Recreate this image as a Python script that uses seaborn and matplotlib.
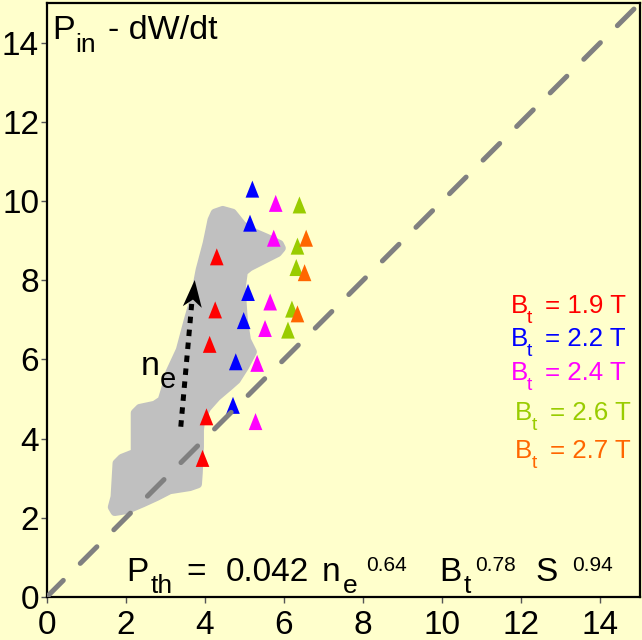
import numpy as np
import pandas as pd
import matplotlib
matplotlib.use("Agg")
import matplotlib.pyplot as plt
from matplotlib.markers import MarkerStyle
from matplotlib.path import Path
from matplotlib.transforms import Affine2D
import seaborn as sns

# Heating power minus dW/dt against the scaling-law threshold power, grouped by toroidal field
bt_levels = ["1.9", "2.2", "2.4", "2.6", "2.7"]
bt_colors = ["#FF0000", "#0000FF", "#FF00FF", "#99CC00", "#FF6600"]

pth_19 = [3.94, 4.04, 4.12, 4.26, 4.30]
pin_19 = [3.50, 4.55, 6.38, 7.25, 8.59]
pth_22 = [5.20, 5.14, 5.09, 4.98, 4.78, 4.71]
pin_22 = [10.30, 9.44, 7.69, 6.98, 5.94, 4.84]
pth_24 = [5.79, 5.74, 5.65, 5.52, 5.32, 5.28]
pin_24 = [9.94, 9.06, 7.45, 6.78, 5.90, 4.43]
pth_26 = [6.39, 6.34, 6.31, 6.20, 6.10]
pin_26 = [9.90, 8.86, 8.32, 7.27, 6.74]
pth_27 = [6.56, 6.52, 6.34]
pin_27 = [9.06, 8.19, 7.15]

# Outline of the shaded density-scan region
band_x = [4.25, 4.45, 4.70, 4.95, 5.21, 5.56, 5.89, 5.94, 5.84, 5.13, 4.98, 4.93,
          4.95, 4.98, 5.06, 5.21, 5.01, 4.80, 4.63, 4.30, 4.05, 3.90, 3.87, 3.87,
          3.84, 3.82, 3.62, 3.11, 2.78, 2.43, 2.03, 1.72, 1.65, 1.72, 1.77, 1.90,
          2.23, 2.23, 2.35, 2.73, 2.91, 2.99, 3.11, 3.37, 3.57, 3.74, 3.87, 4.05, 4.17]
band_y = [9.70, 9.77, 9.70, 9.39, 9.22, 9.07, 8.91, 8.81, 8.69, 8.33, 8.21, 7.83,
          7.42, 6.99, 6.49, 6.19, 5.81, 5.48, 5.33, 5.05, 4.77, 4.47, 4.22, 3.79,
          3.13, 2.85, 2.78, 2.70, 2.53, 2.37, 2.20, 2.15, 2.27, 2.53, 3.38, 3.51,
          3.64, 4.65, 4.77, 4.85, 4.97, 5.23, 5.68, 6.24, 6.99, 7.58, 8.26, 8.94, 9.52]

# Direction of increasing density
arrow_tail = (3.39, 4.30)
arrow_tip = (3.72, 8.01)
head_len = 0.68  # data units

tick_values = [0, 2, 4, 6, 8, 10, 12, 14]
axis_limit = 15

bg = "#FFFFCC"
sns.set_style("ticks")
plt.rcParams["font.family"] = ["Liberation Sans", "DejaVu Sans"]

fig = plt.figure(figsize=(6.42, 6.40), dpi=100, facecolor=bg)
W, H = 642.0, 640.0
ax = fig.add_axes([46.7 / W, 1 - 597 / H, (640 - 46.7) / W, (597 - 3) / H])
ax.set_facecolor(bg)

frames = []
for lvl, xs, ys in zip(bt_levels, [pth_19, pth_22, pth_24, pth_26, pth_27],
                       [pin_19, pin_22, pin_24, pin_26, pin_27]):
    frames.append(pd.DataFrame({"pth": xs, "pin": ys, "bt": lvl}))
df = pd.concat(frames, ignore_index=True)

# shaded region
ax.fill(band_x, band_y, facecolor="#C0C0C0", edgecolor="#C0C0C0", lw=6,
        joinstyle="round", zorder=1)

# tall triangle marker
tri = MarkerStyle(Path([(-0.8, -1), (0.8, -1), (0, 1), (-0.8, -1)],
                       [Path.MOVETO, Path.LINETO, Path.LINETO, Path.CLOSEPOLY]))
sns.scatterplot(data=df, x="pth", y="pin", hue="bt", hue_order=bt_levels,
                palette=dict(zip(bt_levels, bt_colors)), marker=tri, s=150,
                linewidth=0, edgecolor="none", legend=False, ax=ax, zorder=3)

# unity line
ax.plot([0, axis_limit], [0, axis_limit], color="#808080", lw=3.6,
        dashes=(4.7, 4.8), dash_capstyle="round", zorder=4)

# density arrow: dotted shaft plus a stealth-shaped head
d = np.array(arrow_tip) - np.array(arrow_tail)
u = d / np.hypot(*d)
neck = np.array(arrow_tip) - u * head_len * 0.9
ax.plot([arrow_tail[0], neck[0]], [arrow_tail[1], neck[1]],
        color="black", lw=3.6, dashes=(1.3, 1.3), dash_capstyle="butt", zorder=5)
angle = np.degrees(np.arctan2(u[1], u[0])) - 90
stealth = Path([(0, 1), (0.7, -1), (0, -0.45), (-0.7, -1), (0, 1)],
               [Path.MOVETO, Path.LINETO, Path.LINETO, Path.LINETO, Path.CLOSEPOLY])
head_marker = MarkerStyle(stealth, transform=Affine2D().rotate_deg(angle))
head_c = np.array(arrow_tip) - u * head_len / 2
ax.plot([head_c[0]], [head_c[1]], marker=head_marker, ms=19.5, color="black",
        mew=0, ls="none", zorder=6)

ax.set_xlim(0, axis_limit)
ax.set_ylim(0, axis_limit)
ax.set_xticks(tick_values)
ax.set_yticks(tick_values)
ax.set_xticklabels([str(t) for t in tick_values])
ax.set_yticklabels([str(t) for t in tick_values])
ax.set_xlabel("")
ax.set_ylabel("")
ax.tick_params(axis="both", direction="out", length=4, width=1, color="#555555",
               labelsize=24, labelcolor="black")
ax.tick_params(axis="x", pad=5)
ax.tick_params(axis="y", pad=1.5)
for sp in ax.spines.values():
    sp.set_visible(True)
    sp.set_color("black")
    sp.set_linewidth(1.6)


def put(px, py, s, size, color="black"):
    fig.text(px / W, 1 - py / H, s, fontsize=size, color=color,
             ha="left", va="baseline")


# panel title
put(52.5, 39.3, "P", 24.5)
put(75.5, 52, "in", 19)
put(108, 39.3, "- dW/dt", 24.5)

# density label
put(141, 375, "n", 24.5)
put(160, 388.3, "e", 21)

# field legend
b_x = [511, 511, 510.5, 514.5, 514.5]
t_x = [527, 527, 526.5, 531.5, 531.5]
eq_x = [545, 545, 545, 550, 550]
base_y = [313, 346, 380, 420, 458.3]
for lvl, col, bx, tx, ex, by in zip(bt_levels, bt_colors, b_x, t_x, eq_x, base_y):
    put(bx, by, "B", 18.6, col)
    put(tx, by + 9.7, "t", 14, col)
    put(ex, by, "= " + lvl + " T", 18.6, col)

# threshold scaling law
put(126, 581, "P", 24)
put(151, 593, "th", 19)
put(186, 581, "=", 24)
put(226, 581, "0.042", 24)
put(322, 581, "n", 24)
put(343, 593, "e", 19)
put(366, 571, "0.64", 15)
put(439, 581, "B", 24)
put(464, 593, "t", 19)
put(475, 571, "0.78", 15)
put(535, 581, "S", 24)
put(572, 571, "0.94", 15)

fig.savefig("out.png", dpi=100, facecolor=bg)
